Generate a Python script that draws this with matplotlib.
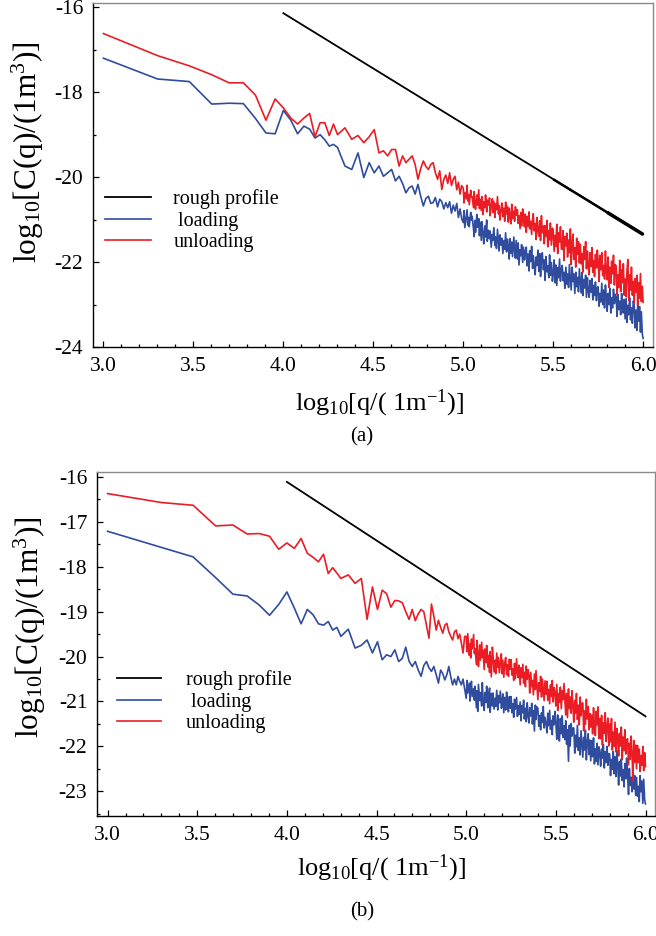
import numpy as np
import matplotlib
matplotlib.use('Agg')
import matplotlib.pyplot as plt
from matplotlib.ticker import MultipleLocator

plt.rcParams['font.family'] = ['Liberation Serif', 'DejaVu Serif']
plt.rcParams['mathtext.fontset'] = 'custom'
plt.rcParams['mathtext.rm'] = 'Liberation Serif'
plt.rcParams['mathtext.it'] = 'Liberation Serif:italic'
plt.rcParams['axes.unicode_minus'] = False

# wavenumber index: q = k * 1000 m^-1
k_idx = [1, 2, 3, 4, 5, 6, 7, 8, 9, 10, 11, 12, 13, 14, 15, 16, 17, 18, 19, 20,
         22, 24, 26, 28, 30, 32, 34, 36, 38, 40,
         42, 44, 46, 48, 50, 52, 54, 56, 58, 60, 62, 64, 66, 68, 70,
         72, 74, 76, 78, 80, 82, 84, 86, 88, 90, 92, 94, 96, 98,
         100, 101, 102, 104, 105, 106, 107, 108, 110, 111, 112, 114, 115, 116, 117, 119, 120, 122, 123, 124,
         126, 127, 129, 130, 132, 133, 135, 136, 138, 140, 141, 143, 145, 146, 148, 150, 151, 153, 155, 157,
         158, 160, 162, 164, 166, 168, 170, 172, 174, 176, 178, 180, 182, 184, 186, 188, 191, 193, 195, 197,
         200, 202, 204, 207, 209, 211, 214, 216, 219, 221, 224, 226, 229, 232, 234, 237, 240, 243, 245, 248,
         251, 254, 257, 260, 263, 266, 269, 272, 275, 279, 282, 285, 288, 292, 295, 299, 302, 305, 309, 313,
         316, 320, 324, 327, 331, 335, 339, 343, 347, 351, 355, 359, 363, 367, 372, 376, 380, 385, 389, 394,
         398, 403, 407, 412, 417, 422, 427, 432, 437, 442, 447, 452, 457, 462, 468, 473, 479, 484, 490, 495,
         501, 507, 513, 519, 525, 531, 537, 543, 550, 556, 562, 569, 575, 582, 589, 596, 603, 610, 617, 624,
         631, 638, 646, 653, 661, 668, 676, 684, 692, 700, 708, 716, 724, 733, 741, 750, 759, 767, 776, 785,
         794, 804, 813, 822, 832, 841, 851, 861, 871, 881, 891, 902, 912, 923, 933, 944, 955, 966, 977, 989,
         1000]

# (a) log10 C(q)
unload_a = [-16.62, -17.14, -17.38, -17.59, -17.78, -17.78, -18.07, -18.66, -18.16, -18.37,
            -18.61, -18.75, -18.61, -18.50, -19.05, -18.72, -18.72, -19.02, -18.75, -19.00,
            -18.84, -19.11, -19.02, -19.19, -19.05, -18.88, -19.43, -19.38, -19.50, -19.35,
            -19.35, -19.74, -19.50, -19.66, -19.58, -19.50, -19.70, -20.05, -19.80, -19.62,
            -19.75, -19.82, -19.70, -19.66, -19.90,
            -20.05, -19.85, -20.29, -20.05, -19.95, -20.15, -19.90, -20.20, -20.05, -19.98,
            -20.30, -20.12, -20.40, -20.20,
            -20.26, -20.61, -20.36, -20.51, -20.19, -20.56, -20.41, -20.65, -20.31, -20.46,
            -20.46, -20.72, -20.34, -20.60, -20.76, -20.42, -20.66, -20.30, -20.74, -20.52,
            -20.79, -20.46, -20.88, -20.58, -20.72, -20.42, -20.82, -20.54, -20.66, -20.49,
            -20.91, -20.67, -20.51, -20.83, -20.57, -20.95, -20.63, -20.77, -20.46, -20.87,
            -20.67, -21.01, -20.77, -20.61, -20.93, -20.73, -21.04, -20.59, -20.87, -20.69,
            -21.06, -20.73, -20.93, -21.10, -20.64, -20.98, -20.80, -21.04, -20.70, -20.90,
            -20.77, -21.09, -20.91, -21.21, -20.83, -21.15, -20.75, -21.01, -21.17, -20.87,
            -21.30, -20.92, -21.16, -20.82, -21.22, -21.04, -21.35, -20.96, -20.86, -21.26,
            -21.09, -21.47, -20.95, -21.25, -21.39, -21.03, -21.49, -20.91, -21.31, -21.15,
            -21.57, -21.14, -21.40, -21.02, -21.64, -21.26, -21.48, -21.08, -21.60, -21.20,
            -21.25, -21.75, -21.37, -21.63, -21.11, -21.80, -21.31, -21.53, -21.17, -21.69,
            -21.70, -21.26, -21.96, -21.40, -21.62, -21.32, -21.88, -21.48, -21.78, -21.22,
            -22.06, -21.58, -21.34, -21.94, -21.66, -22.12, -21.44, -21.82, -21.52, -22.02,
            -21.58, -22.04, -21.80, -22.24, -21.64, -21.94, -21.52, -22.16, -21.74, -22.08,
            -22.30, -21.78, -22.10, -21.66, -22.24, -21.96, -22.34, -21.82, -22.14, -21.72,
            -21.98, -22.46, -21.84, -22.18, -21.78, -22.32, -22.08, -22.40, -21.74, -22.24,
            -22.42, -21.88, -22.60, -22.12, -22.50, -21.98, -22.28, -21.84, -22.54, -22.06,
            -22.10, -22.76, -22.30, -22.60, -21.96, -22.70, -22.18, -22.48, -22.04, -22.78,
            -22.40, -22.82, -22.20, -21.94, -22.90, -22.30, -22.66, -22.12, -22.78, -22.46,
            -22.97, -22.39, -22.71, -22.31, -23.01, -22.49, -22.85, -22.27, -22.93, -22.57,
            -22.95]
load_a = [-17.20, -17.69, -17.75, -18.28, -18.26, -18.27, -18.62, -18.96, -18.98, -18.43,
          -18.66, -18.98, -18.80, -18.87, -19.08, -19.00, -19.12, -19.27, -19.23, -19.30,
          -19.74, -19.82, -19.43, -20.01, -19.66, -19.90, -19.74, -19.98, -19.90, -19.82,
          -20.09, -19.98, -20.15, -20.37, -20.25, -20.21, -20.40, -20.17, -20.45, -20.68,
          -20.50, -20.45, -20.62, -20.60, -20.48,
          -20.70, -20.52, -20.58, -20.75, -20.60, -20.72, -20.58, -20.85, -20.66, -20.80,
          -20.62, -20.95, -20.75, -20.98,
          -21.07, -20.79, -21.19, -20.91, -20.77, -21.13, -20.95, -21.17, -20.83, -21.01,
          -20.92, -21.22, -21.40, -21.02, -21.30, -20.88, -21.18, -20.98, -21.38, -21.06,
          -21.49, -21.05, -21.35, -21.57, -21.15, -21.41, -21.01, -21.51, -21.25, -21.45,
          -21.27, -21.65, -21.35, -21.49, -21.19, -21.61, -21.41, -21.68, -21.23, -21.53,
          -21.74, -21.36, -21.60, -21.44, -21.80, -21.50, -21.70, -21.31, -21.76, -21.46,
          -21.63, -21.93, -21.45, -21.79, -21.53, -21.87, -21.41, -21.73, -21.91, -21.49,
          -21.93, -21.55, -22.07, -21.71, -21.85, -21.59, -22.01, -21.65, -21.95, -21.75,
          -21.65, -22.09, -21.81, -22.21, -21.73, -21.99, -21.63, -22.15, -21.85, -22.05,
          -22.30, -21.88, -22.08, -21.72, -22.22, -21.80, -22.34, -21.94, -21.78, -22.18,
          -21.95, -22.43, -21.87, -22.23, -22.09, -22.37, -21.83, -22.31, -22.01, -22.45,
          -22.31, -21.95, -22.49, -22.07, -22.55, -22.13, -22.37, -21.93, -22.45, -22.17,
          -22.08, -22.44, -22.24, -22.62, -22.12, -22.52, -22.28, -22.60, -22.06, -22.38,
          -22.66, -22.12, -22.46, -22.28, -22.74, -22.24, -22.58, -22.36, -22.70, -22.16,
          -22.45, -22.73, -22.25, -22.79, -22.41, -22.61, -22.31, -22.83, -22.37, -22.67,
          -22.83, -22.43, -22.71, -22.39, -22.89, -22.55, -22.79, -22.47, -22.91, -22.61,
          -22.58, -23.04, -22.74, -22.94, -22.50, -23.00, -22.66, -23.08, -22.54, -22.82,
          -23.16, -22.74, -23.00, -22.62, -23.20, -22.84, -23.08, -22.64, -22.98, -22.76,
          -22.82, -23.28, -22.76, -23.12, -22.92, -23.24, -22.74, -23.06, -23.20, -22.88,
          -23.34, -22.86, -23.42, -23.02, -23.24, -22.84, -23.36, -23.08, -23.44, -22.92,
          -22.99, -23.55, -23.13, -23.61, -22.95, -23.39, -23.05, -23.65, -23.17, -23.69,
          -23.80]

# (b) log10 C(q)
unload_b = [-16.37, -16.57, -16.63, -17.09, -17.07, -17.27, -17.26, -17.32, -17.61, -17.47,
            -17.59, -17.37, -17.70, -17.79, -17.89, -17.72, -18.15, -18.02, -18.14, -18.26,
            -18.18, -18.37, -18.26, -19.17, -18.45, -18.95, -18.52, -18.60, -18.90, -18.75,
            -18.76, -18.80, -19.00, -19.17, -18.95, -19.20, -19.05, -18.95, -19.00, -19.30,
            -19.59, -18.83, -19.10, -19.41, -19.19,
            -19.35, -19.48, -19.30, -19.26, -19.45, -19.55, -19.63, -19.45, -19.41, -19.60,
            -19.50, -19.70, -19.92, -19.55,
            -19.55, -19.89, -19.49, -19.97, -19.71, -20.03, -19.61, -19.83, -19.51, -19.93,
            -19.82, -20.18, -19.64, -19.96, -20.22, -19.74, -20.08, -19.68, -20.02, -19.86,
            -20.29, -19.83, -20.13, -19.75, -20.23, -19.97, -20.35, -19.89, -20.45, -19.79,
            -19.96, -20.34, -20.08, -20.38, -19.92, -20.24, -20.02, -20.36, -20.12, -19.94,
            -20.38, -20.08, -20.46, -20.14, -20.02, -20.40, -20.18, -20.44, -20.06, -20.28,
            -20.07, -20.41, -20.27, -20.53, -20.15, -20.49, -20.05, -20.37, -20.47, -20.19,
            -20.63, -20.25, -20.47, -20.17, -20.59, -20.35, -20.67, -20.21, -20.51, -20.29,
            -20.43, -20.81, -20.35, -20.67, -20.53, -20.85, -20.39, -20.73, -20.31, -20.63,
            -20.96, -20.58, -20.78, -20.44, -20.90, -20.50, -20.74, -20.98, -20.54, -20.84,
            -20.55, -20.97, -20.73, -21.05, -20.63, -20.89, -20.53, -21.01, -20.69, -20.83,
            -21.10, -20.62, -21.20, -20.82, -21.02, -20.68, -21.16, -20.76, -20.96, -20.60,
            -20.96, -21.30, -20.82, -21.36, -20.72, -21.16, -20.90, -21.26, -20.76, -21.10,
            -21.46, -20.98, -21.26, -20.82, -21.40, -21.08, -21.52, -20.90, -21.32, -21.04,
            -21.03, -21.65, -21.21, -21.51, -20.95, -21.39, -21.11, -21.63, -21.27, -21.57,
            -21.30, -21.72, -21.14, -21.58, -21.76, -21.22, -21.52, -21.12, -21.82, -21.38,
            -21.83, -21.31, -21.97, -21.47, -21.71, -21.25, -21.89, -21.55, -21.37, -21.99,
            -21.50, -21.90, -21.38, -22.08, -21.68, -22.00, -21.46, -22.12, -21.60, -21.82,
            -22.21, -21.71, -21.99, -21.57, -22.29, -21.79, -22.09, -21.63, -22.17, -21.87,
            -21.83, -22.41, -21.93, -22.29, -21.77, -22.17, -22.77, -21.87, -22.35, -21.97,
            -22.50, -21.98, -22.36, -22.06, -22.56, -22.20, -22.42, -22.00, -22.54, -22.14,
            -22.45]
load_b = [-17.21, -17.57, -17.78, -18.24, -18.61, -18.65, -18.85, -19.08, -18.84, -18.56,
          -18.92, -19.27, -18.95, -19.07, -19.27, -19.30, -19.22, -19.41, -19.35, -19.55,
          -19.39, -19.81, -19.75, -19.63, -19.92, -19.67, -20.07, -19.96, -20.00, -19.85,
          -20.11, -20.04, -19.79, -20.10, -20.22, -20.11, -20.30, -20.44, -20.20, -20.11,
          -20.25, -20.33, -20.22, -20.40, -20.59,
          -20.30, -20.38, -20.52, -20.40, -20.22, -20.45, -20.63, -20.50, -20.63, -20.44,
          -20.55, -20.63, -20.50, -20.72,
          -20.93, -20.53, -20.81, -20.59, -20.99, -20.67, -20.55, -20.89, -20.71, -20.97,
          -20.66, -21.14, -20.76, -21.22, -20.62, -20.98, -20.80, -21.10, -20.58, -20.94,
          -21.20, -20.80, -21.02, -20.66, -21.14, -20.90, -20.70, -21.24, -20.82, -21.10,
          -20.81, -21.17, -20.93, -21.11, -20.75, -21.19, -20.87, -21.03, -20.77, -21.15,
          -21.11, -20.83, -21.25, -20.91, -21.19, -20.79, -21.07, -21.23, -20.89, -21.15,
          -20.89, -21.25, -21.05, -21.35, -20.95, -21.17, -20.91, -21.33, -21.09, -21.29,
          -21.01, -21.43, -21.09, -21.25, -20.97, -21.39, -21.15, -21.45, -21.03, -21.31,
          -21.48, -21.14, -21.32, -21.04, -21.50, -21.20, -21.66, -21.08, -21.40, -21.12,
          -21.15, -21.55, -21.31, -21.63, -21.25, -21.47, -21.11, -21.59, -21.35, -21.51,
          -21.70, -21.26, -21.54, -21.20, -21.62, -21.42, -21.74, -21.32, -21.52, -21.22,
          -21.46, -21.84, -21.30, -21.68, -21.88, -21.38, -21.72, -21.32, -21.80, -21.54,
          -21.85, -21.43, -21.95, -21.63, -22.33, -21.53, -21.99, -21.49, -21.77, -21.59,
          -21.59, -22.15, -21.75, -22.01, -21.53, -22.09, -21.81, -22.19, -21.65, -21.93,
          -22.24, -21.80, -22.08, -21.64, -22.30, -21.90, -21.72, -22.18, -21.86, -22.32,
          -21.87, -22.23, -21.81, -22.39, -22.05, -22.33, -21.93, -22.41, -22.01, -22.15,
          -22.44, -22.06, -22.26, -21.96, -22.48, -22.12, -22.36, -22.00, -22.42, -22.16,
          -22.17, -22.65, -22.29, -22.51, -22.11, -22.61, -22.23, -22.67, -22.09, -22.43,
          -22.86, -22.34, -22.66, -22.28, -22.76, -22.52, -22.90, -22.38, -22.72, -22.26,
          -22.61, -23.07, -22.49, -22.87, -22.69, -23.01, -22.43, -22.95, -22.65, -23.09,
          -22.69, -23.11, -22.89, -23.23, -22.65, -23.01, -22.77, -23.27, -22.73, -23.19,
          -23.28]

# rough profile: straight power law between q = 1e4 and 1e6
rough_q = [1e4, 1e6]
rough_a = [-16.14, -21.35]
rough_b = [-16.11, -21.33]
# the (a) profile scatters more and more towards high q
rough_a_tail_q = [[3.16e5, 1e6], [6.31e5, 1e6]]
rough_a_tail = [[-20.05, -21.35], [-20.83, -21.35]]
rough_a_tail_lw = [1.8, 2.5]

RED = '#ec1c24'
BLUE = '#2f4c9e'

logq = np.log10(1e3 * np.array(k_idx))

fig = plt.figure(figsize=(6.56, 9.36), dpi=100)
ax_a = fig.add_axes([0.1418, 0.6293, 0.8537, 0.3675])
ax_b = fig.add_axes([0.1479, 0.1282, 0.8506, 0.3675])


def draw_panel(ax, load, unload, rough, ylim, ymaj, ymin, xlim):
    ax.plot(np.log10(rough_q), rough, color='black', lw=1.3, label='rough profile')
    ax.plot(logq, load, color=BLUE, lw=1.2, label=' loading')
    ax.plot(logq, unload, color=RED, lw=1.2, label='unloading')
    ax.set_xlim(*xlim)
    ax.set_ylim(*ylim)
    ax.xaxis.set_major_locator(MultipleLocator(0.5))
    ax.xaxis.set_minor_locator(MultipleLocator(0.1))
    ax.yaxis.set_major_locator(MultipleLocator(ymaj))
    ax.yaxis.set_minor_locator(MultipleLocator(ymin))
    ax.xaxis.set_major_formatter(lambda v, p: f'{v:.1f}')
    ax.yaxis.set_major_formatter(lambda v, p: f'{v:.0f}')
    ax.tick_params(which='both', direction='in', top=False, right=False,
                   labelsize=15.5, width=0.9, pad=7)
    ax.tick_params(which='major', length=4.5)
    ax.tick_params(which='minor', length=2.5)
    for s in ('top', 'right'):
        ax.spines[s].set_color('#8a8a8a')
    for s in ax.spines.values():
        s.set_linewidth(1.0)


draw_panel(ax_a, load_a, unload_a, rough_a, (-24.0, -15.9), 2, 1, (2.942, 6.055))
draw_panel(ax_b, load_b, unload_b, rough_b, (-23.55, -15.89), 1, 0.5, (2.941, 6.053))
for tq, ty, tw in zip(rough_a_tail_q, rough_a_tail, rough_a_tail_lw):
    ax_a.plot(np.log10(tq), ty, color='black', lw=tw, solid_capstyle='butt')

ax_a.legend(loc='upper left', bbox_to_anchor=(0.021, 0.459), frameon=False,
            fontsize=14.5, handlelength=2.3, handletextpad=1.1, labelspacing=0.13,
            borderpad=0, borderaxespad=0)
ax_b.legend(loc='upper left', bbox_to_anchor=(0.036, 0.424), frameon=False,
            fontsize=14.5, handlelength=2.2, handletextpad=1.2, labelspacing=0.13,
            borderpad=0, borderaxespad=0)

ylab = 'log$_{10}$[C(q)/(1m$^3$)]'
xlab = 'log$_{10}$[q/( 1m$^{-1}$)]'
fig.text(28 / 656, 1 - 152 / 936, ylab, rotation=90, ha='center', va='center', fontsize=22.5)
fig.text(380 / 656, 1 - 403 / 936, xlab, ha='center', va='center', fontsize=19)
fig.text(362 / 656, 1 - 437 / 936, '(a)', ha='center', va='center', fontsize=15)
fig.text(30 / 656, 1 - 627 / 936, ylab, rotation=90, ha='center', va='center', fontsize=22.5)
fig.text(382 / 656, 1 - 868 / 936, xlab, ha='center', va='center', fontsize=19)
fig.text(362 / 656, 1 - 912 / 936, '(b)', ha='center', va='center', fontsize=15)

fig.savefig('out.png', dpi=100)
